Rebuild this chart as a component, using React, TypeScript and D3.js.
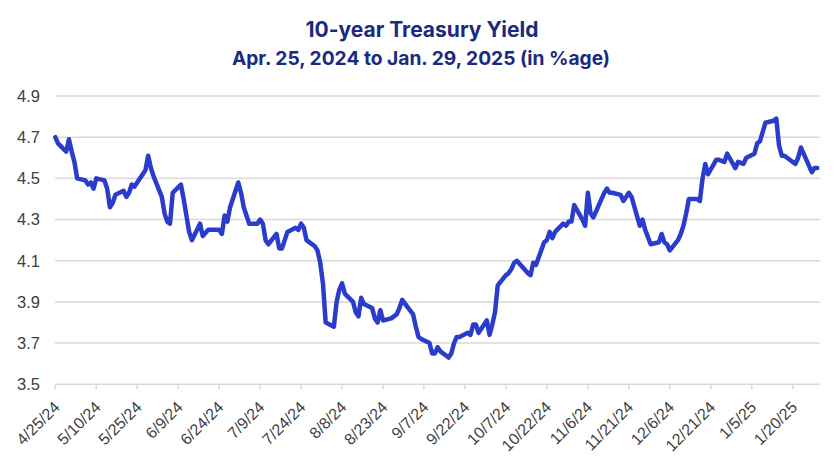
import React from "react";
import * as d3 from "d3";

const dates: string[] = [
  "2024-04-25","2024-04-26","2024-04-29","2024-04-30",
  "2024-05-01","2024-05-02","2024-05-03","2024-05-06","2024-05-07","2024-05-08","2024-05-09","2024-05-10",
  "2024-05-13","2024-05-14","2024-05-15","2024-05-16","2024-05-17","2024-05-20","2024-05-21","2024-05-22",
  "2024-05-23","2024-05-24","2024-05-28","2024-05-29","2024-05-30","2024-05-31",
  "2024-06-03","2024-06-04","2024-06-05","2024-06-06","2024-06-07","2024-06-10","2024-06-11","2024-06-12",
  "2024-06-13","2024-06-14","2024-06-17","2024-06-18","2024-06-20","2024-06-21","2024-06-24","2024-06-25",
  "2024-06-26","2024-06-27","2024-06-28",
  "2024-07-01","2024-07-02","2024-07-03","2024-07-05","2024-07-08","2024-07-09","2024-07-10","2024-07-11",
  "2024-07-12","2024-07-15","2024-07-16","2024-07-17","2024-07-18","2024-07-19","2024-07-22","2024-07-23",
  "2024-07-24","2024-07-25","2024-07-26","2024-07-29","2024-07-30","2024-07-31",
  "2024-08-01","2024-08-02","2024-08-05","2024-08-06","2024-08-07","2024-08-08","2024-08-09","2024-08-12",
  "2024-08-13","2024-08-14","2024-08-15","2024-08-16","2024-08-19","2024-08-20","2024-08-21","2024-08-22",
  "2024-08-23","2024-08-26","2024-08-27","2024-08-28","2024-08-29","2024-08-30",
  "2024-09-03","2024-09-04","2024-09-05","2024-09-06","2024-09-09","2024-09-10","2024-09-11","2024-09-12",
  "2024-09-13","2024-09-16","2024-09-17","2024-09-18","2024-09-19","2024-09-20","2024-09-23","2024-09-24",
  "2024-09-25","2024-09-26","2024-09-27","2024-09-30",
  "2024-10-01","2024-10-02","2024-10-03","2024-10-04","2024-10-07","2024-10-08","2024-10-09","2024-10-10",
  "2024-10-11","2024-10-15","2024-10-16","2024-10-17","2024-10-18","2024-10-21","2024-10-22","2024-10-23",
  "2024-10-24","2024-10-25","2024-10-28","2024-10-29","2024-10-30","2024-10-31",
  "2024-11-01","2024-11-04","2024-11-05","2024-11-06","2024-11-07","2024-11-08","2024-11-12","2024-11-13",
  "2024-11-14","2024-11-15","2024-11-18","2024-11-19","2024-11-20","2024-11-21","2024-11-22","2024-11-25",
  "2024-11-26","2024-11-27","2024-11-29",
  "2024-12-02","2024-12-03","2024-12-04","2024-12-05","2024-12-06","2024-12-09","2024-12-10","2024-12-11",
  "2024-12-12","2024-12-13","2024-12-16","2024-12-17","2024-12-18","2024-12-19","2024-12-20","2024-12-23",
  "2024-12-24","2024-12-26","2024-12-27","2024-12-30","2024-12-31",
  "2025-01-02","2025-01-03","2025-01-06","2025-01-07","2025-01-08","2025-01-10","2025-01-13","2025-01-14",
  "2025-01-15","2025-01-16","2025-01-17","2025-01-21","2025-01-22","2025-01-23","2025-01-24","2025-01-27",
  "2025-01-28","2025-01-29",
];

const yields: number[] = [
  4.70, 4.67, 4.63, 4.69,
  4.63, 4.58, 4.50, 4.49, 4.47, 4.48, 4.45, 4.50,
  4.49, 4.45, 4.36, 4.38, 4.42, 4.44, 4.41, 4.43,
  4.47, 4.46, 4.54, 4.61, 4.55, 4.51,
  4.41, 4.33, 4.29, 4.28, 4.43, 4.47, 4.40, 4.32,
  4.24, 4.20, 4.28, 4.22, 4.25, 4.25, 4.25, 4.23,
  4.32, 4.29, 4.36,
  4.48, 4.43, 4.36, 4.28, 4.28, 4.30, 4.28, 4.20,
  4.18, 4.23, 4.16, 4.16, 4.20, 4.24, 4.26, 4.25,
  4.28, 4.26, 4.20, 4.17, 4.15, 4.09,
  3.99, 3.80, 3.78, 3.90, 3.96, 3.99, 3.94, 3.90,
  3.85, 3.83, 3.92, 3.89, 3.87, 3.82, 3.80, 3.86,
  3.81, 3.82, 3.83, 3.84, 3.87, 3.91,
  3.84, 3.78, 3.73, 3.72, 3.70, 3.65, 3.65, 3.68,
  3.66, 3.63, 3.65, 3.70, 3.73, 3.73, 3.75, 3.74,
  3.79, 3.79, 3.75, 3.81,
  3.74, 3.79, 3.85, 3.98, 4.03, 4.04, 4.06, 4.09,
  4.10, 4.04, 4.03, 4.09, 4.08, 4.19, 4.20, 4.24,
  4.21, 4.24, 4.28, 4.27, 4.29, 4.29,
  4.37, 4.30, 4.27, 4.43, 4.33, 4.31, 4.43, 4.45,
  4.43, 4.43, 4.42, 4.39, 4.41, 4.43, 4.41, 4.27,
  4.30, 4.25, 4.18,
  4.19, 4.23, 4.19, 4.18, 4.15, 4.20, 4.23, 4.27,
  4.33, 4.40, 4.40, 4.39, 4.50, 4.57, 4.52, 4.59,
  4.59, 4.58, 4.62, 4.55, 4.58,
  4.57, 4.60, 4.62, 4.67, 4.68, 4.77, 4.78, 4.79,
  4.66, 4.61, 4.61, 4.57, 4.60, 4.65, 4.62, 4.53,
  4.55, 4.55,
];

const yTicks: number[] = [3.5, 3.7, 3.9, 4.1, 4.3, 4.5, 4.7, 4.9];
const xTickLabels: string[] = [
  "4/25/24","5/10/24","5/25/24","6/9/24","6/24/24","7/9/24","7/24/24","8/8/24","8/23/24","9/7/24",
  "9/22/24","10/7/24","10/22/24","11/6/24","11/21/24","12/6/24","12/21/24","1/5/25","1/20/25",
];

const titleLine1 = "10-year Treasury Yield";
const titleLine2 = "Apr. 25, 2024 to Jan. 29, 2025 (in %age)";

const W = 840;
const H = 472;
const parse = d3.timeParse("%Y-%m-%d");
const parseTick = d3.timeParse("%m/%d/%y");

export default function App() {
  const data = dates.map((d, i) => ({ date: parse(d) as Date, value: yields[i] }));
  const x = d3
    .scaleTime()
    .domain([parse("2024-04-25") as Date, parse("2025-01-30") as Date])
    .range([55.3, 820]);
  const y = d3.scaleLinear().domain([3.5, 4.9]).range([384.3, 96]);
  const line = d3
    .line<{ date: Date; value: number }>()
    .x((d) => x(d.date))
    .y((d) => y(d.value))
    .curve(d3.curveLinear);
  const tickDates = xTickLabels.map((t) => parseTick(t) as Date);
  const navy = "#1a2a80";
  return (
    <svg
      width={W}
      height={H}
      style={{ position: "absolute", left: 0, top: 0, background: "#fff" }}
    >
      <text
        x={422}
        y={37}
        textAnchor="middle"
        fontFamily="Inter, 'Noto Sans', sans-serif"
        fontWeight={700}
        fontSize={21}
        fill={navy}
      >
        {titleLine1}
      </text>
      <text
        x={421}
        y={65}
        textAnchor="middle"
        fontFamily="Inter, 'Noto Sans', sans-serif"
        fontWeight={700}
        fontSize={19.2}
        fill={navy}
      >
        {titleLine2}
      </text>
      {yTicks.map((t) => (
        <g key={t}>
          <line
            x1={55}
            x2={820}
            y1={y(t)}
            y2={y(t)}
            stroke="#d9d9d9"
            strokeWidth={1.5}
          />
          <text
            x={40}
            y={y(t)}
            dy="0.36em"
            textAnchor="end"
            fontFamily="'Liberation Sans', Arial, sans-serif"
            fontSize={16.5}
            fill="#404040"
          >
            {t.toFixed(1)}
          </text>
        </g>
      ))}
      {tickDates.map((d, i) => (
        <g key={i}>
          <line
            x1={x(d)}
            x2={x(d)}
            y1={y(3.5)}
            y2={y(3.5) + 5}
            stroke="#d9d9d9"
            strokeWidth={1.5}
          />
          <text
            transform={`translate(${x(d) + 5.5},${y(3.5) + 24}) rotate(-45)`}
            textAnchor="end"
            fontFamily="'Liberation Sans', Arial, sans-serif"
            fontSize={16}
            fill="#404040"
          >
            {xTickLabels[i]}
          </text>
        </g>
      ))}
      <path
        d={line(data) || ""}
        fill="none"
        stroke="#2a3ccc"
        strokeWidth={4.5}
        strokeLinejoin="round"
        strokeLinecap="round"
      />
    </svg>
  );
}
